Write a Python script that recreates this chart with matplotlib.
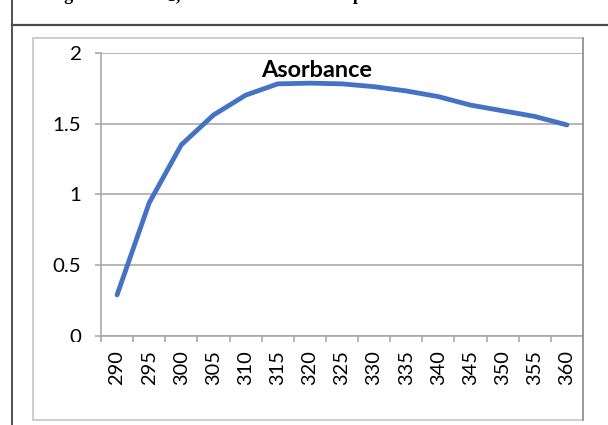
import matplotlib
matplotlib.use("Agg")
import matplotlib.pyplot as plt
from matplotlib.lines import Line2D
from matplotlib.patches import Rectangle
from matplotlib.transforms import Bbox, TransformedBbox

# ---- data -------------------------------------------------------------
wavelengths = [290, 295, 300, 305, 310, 315, 320, 325, 330, 335, 340, 345, 350, 355, 360]
absorbance = [0.29, 0.94, 1.35, 1.56, 1.70, 1.78, 1.785, 1.78, 1.76, 1.73, 1.69, 1.63, 1.59, 1.55, 1.49]
y_ticks = [0, 0.5, 1, 1.5, 2]
y_tick_labels = ["0", "0.5", "1", "1.5", "2"]
chart_title = "Asorbance"
caption_words = ["Figure", "3,", "absorption"]

# ---- figure -----------------------------------------------------------
W, H = 608, 425
fig = plt.figure(figsize=(W / 100, H / 100), dpi=100)
fig.patch.set_facecolor("white")


def fx(px):
    return px / W


def fy(py):
    return 1 - py / H


def pt(px):
    return px * 72 / 100


GRID = "#a6a6a6"
BLUE = "#4472C4"
FONT = "Lato"

# document table lines around the chart
fig.add_artist(Line2D([fx(12), fx(12)], [0, 1], transform=fig.transFigure,
                      color="#2b2b2b", lw=pt(1.6)))
fig.add_artist(Line2D([fx(12), 1], [fy(25), fy(25)], transform=fig.transFigure,
                      color="#4a4a4a", lw=pt(2.2)))

# caption line above the table border (only its lowest strokes fall on the page)
caption_x = [49, 167, 310]
for word, x in zip(caption_words, caption_x):
    fig.text(fx(x), 1.0, word, family="Liberation Serif", fontweight="bold",
             fontsize=pt(18), va="baseline", ha="left", color="black")

# chart area frame
fig.add_artist(Rectangle((fx(33), fy(420)), fx(583) - fx(33), fy(38) - fy(420),
                         transform=fig.transFigure, fill=False,
                         ec="#c3c3c3", lw=pt(1.6)))
fig.add_artist(Line2D([fx(583), fx(583)], [fy(38), fy(420)], transform=fig.transFigure,
                      color="#8f8f8f", lw=pt(1.6)))

# ---- plot area --------------------------------------------------------
ax = fig.add_axes([fx(101), fy(336), fx(583) - fx(101), fy(52.7) - fy(336)])
ax.set_facecolor("none")
x = list(range(len(wavelengths)))
ax.plot(x, absorbance, color=BLUE, lw=pt(4.8), solid_capstyle="round",
        solid_joinstyle="round", zorder=3)

ax.set_xlim(-0.5, len(wavelengths) - 0.5)
ax.set_ylim(0, 2)

ax.set_yticks(y_ticks)
ax.set_yticklabels(y_tick_labels)
ax.yaxis.grid(True, color=GRID, lw=pt(1.6))
ax.set_axisbelow(True)

ax.set_xticks(x)
ax.set_xticklabels([str(w) for w in wavelengths], rotation=90)
ax.set_xticks([i - 0.5 for i in range(len(wavelengths) + 1)], minor=True)

for side in ("top", "right"):
    ax.spines[side].set_visible(False)
for side in ("left", "bottom"):
    ax.spines[side].set_color(GRID)
    ax.spines[side].set_linewidth(pt(1.6))

ax.tick_params(axis="y", which="major", length=pt(6), width=pt(1.6), color=GRID,
               pad=pt(14), labelsize=pt(20.5), labelcolor="black")
ax.tick_params(axis="x", which="major", length=0, pad=pt(14),
               labelsize=pt(20), labelcolor="black")
ax.tick_params(axis="x", which="minor", length=pt(6), width=pt(1.6), color=GRID)

for lab in ax.get_xticklabels() + ax.get_yticklabels():
    lab.set_family(FONT)

# the lowest y label is cut off by the category axis band
zero_label = ax.get_yticklabels()[0]
clip = TransformedBbox(Bbox([[0, fy(341.5)], [fx(100), 1]]), fig.transFigure)
zero_label.set_clip_box(clip)
zero_label.set_clip_on(True)

fig.text(fx(317), fy(77), chart_title, ha="center", va="baseline",
         family=FONT, fontweight="bold", fontsize=pt(23.5), color="black")

fig.savefig("out.png", dpi=100, facecolor="white")
